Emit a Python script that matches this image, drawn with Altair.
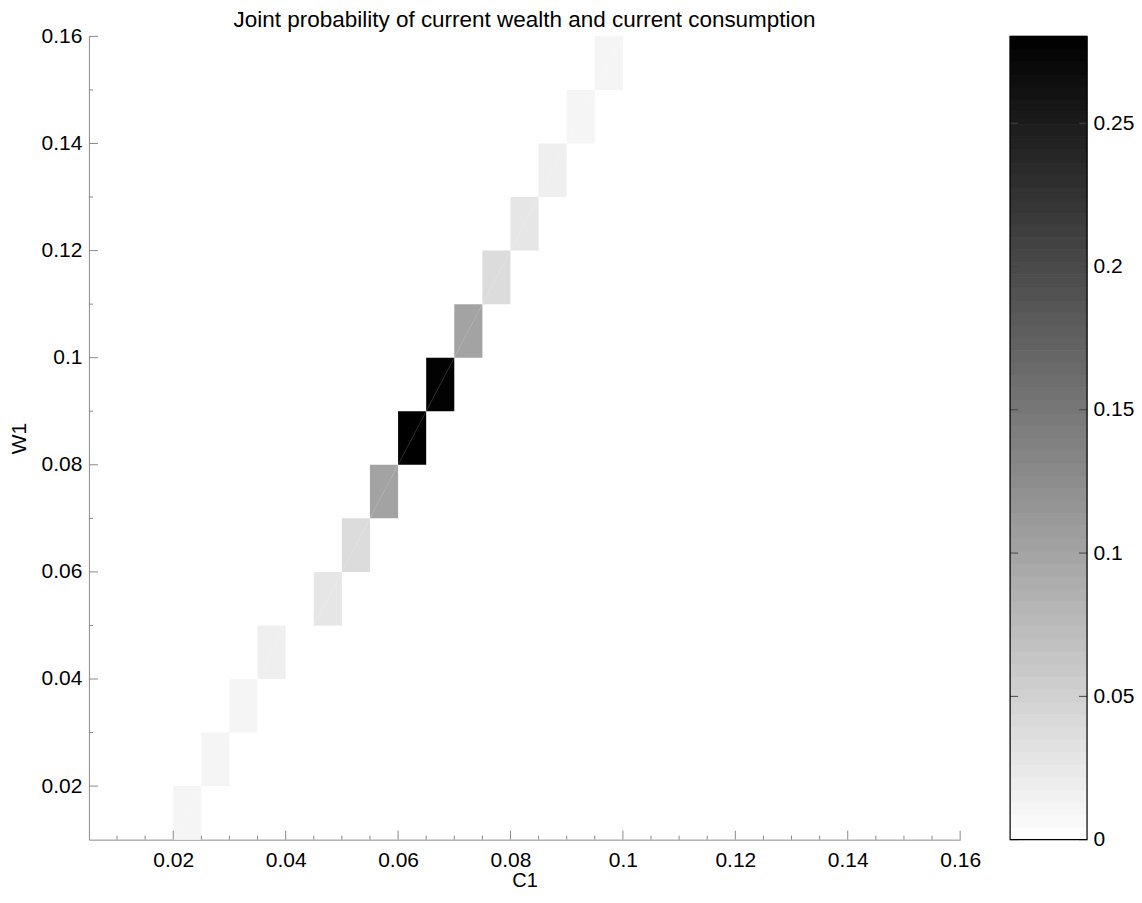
import altair as alt
import pandas as pd

# ---- data ----
c1_left = [0.020, 0.025, 0.030, 0.035, 0.045, 0.050, 0.055, 0.060,
           0.065, 0.070, 0.075, 0.080, 0.085, 0.090, 0.095]
c1_right = [0.025, 0.030, 0.035, 0.040, 0.050, 0.055, 0.060, 0.065,
            0.070, 0.075, 0.080, 0.085, 0.090, 0.095, 0.100]
w1_low = [0.01, 0.02, 0.03, 0.04, 0.05, 0.06, 0.07, 0.08,
          0.09, 0.10, 0.11, 0.12, 0.13, 0.14, 0.15]
w1_high = [0.02, 0.03, 0.04, 0.05, 0.06, 0.07, 0.08, 0.09,
           0.10, 0.11, 0.12, 0.13, 0.14, 0.15, 0.16]
prob = [0.011, 0.011, 0.011, 0.0176, 0.0275, 0.0385, 0.101, 0.280,
        0.278, 0.101, 0.0385, 0.0275, 0.0176, 0.011, 0.011]

x_major = [0.02, 0.04, 0.06, 0.08, 0.10, 0.12, 0.14, 0.16]
x_minor = [0.01, 0.015, 0.025, 0.03, 0.035, 0.045, 0.05, 0.055, 0.065, 0.07,
           0.075, 0.085, 0.09, 0.095, 0.105, 0.11, 0.115, 0.125, 0.13, 0.135,
           0.145, 0.15, 0.155]
y_major = [0.02, 0.04, 0.06, 0.08, 0.10, 0.12, 0.14, 0.16]
y_minor = [0.03, 0.05, 0.07, 0.09, 0.11, 0.13, 0.15]
cbar_ticks = [0, 0.05, 0.10, 0.15, 0.20, 0.25]
CMAX = 0.2803
N_LEVELS = 64

FONT = "Liberation Sans"
AXC = "#8a8a8a"
W, H = 872, 804
CBW = 77

cells = pd.DataFrame({"c_lo": c1_left, "c_hi": c1_right,
                      "w_lo": w1_low, "w_hi": w1_high, "p": prob})

xs = alt.Scale(domain=[0.005, 0.16], nice=False, zero=False)
ys = alt.Scale(domain=[0.01, 0.16], nice=False, zero=False)
cs = alt.Scale(domain=[0, CMAX], range=["#ffffff", "#000000"], interpolate="rgb")

x_axis = alt.Axis(values=x_major, format="~g", labelFlush=False, labelOverlap=False,
                  labelPadding=10, titlePadding=0, titleFontSize=20)
y_axis = alt.Axis(values=y_major, format="~g", labelFlush=False, labelOverlap=False,
                  labelPadding=7, titlePadding=12)

rects = alt.Chart(cells).mark_rect(strokeWidth=0).encode(
    x=alt.X("c_lo:Q", scale=xs, axis=x_axis, title="C1"),
    x2="c_hi:Q",
    y=alt.Y("w_lo:Q", scale=ys, axis=y_axis, title="W1"),
    y2="w_hi:Q",
    color=alt.Color("p:Q", scale=cs, legend=None),
)

seams = alt.Chart(cells).mark_rule(color="white", opacity=0.22, strokeWidth=0.8).encode(
    x=alt.X("c_lo:Q", scale=xs, title="C1"),
    x2="c_hi:Q",
    y=alt.Y("w_lo:Q", scale=ys, title="W1"),
    y2="w_hi:Q",
)

xmaj = alt.Chart(pd.DataFrame({"v": x_major})).mark_rule(color=AXC, strokeWidth=1).encode(
    x=alt.X("v:Q", scale=xs, title="C1"), y=alt.value(H), y2=alt.value(H - 9))
xmin = alt.Chart(pd.DataFrame({"v": x_minor})).mark_rule(color=AXC, strokeWidth=1).encode(
    x=alt.X("v:Q", scale=xs, title="C1"), y=alt.value(H), y2=alt.value(H - 4))
ymaj = alt.Chart(pd.DataFrame({"v": y_major})).mark_rule(color=AXC, strokeWidth=1).encode(
    y=alt.Y("v:Q", scale=ys, title="W1"), x=alt.value(0), x2=alt.value(9))
ymin = alt.Chart(pd.DataFrame({"v": y_minor})).mark_rule(color=AXC, strokeWidth=1).encode(
    y=alt.Y("v:Q", scale=ys, title="W1"), x=alt.value(0), x2=alt.value(4))

main = alt.layer(rects, seams, xmaj, xmin, ymaj, ymin).properties(
    width=W, height=H,
    title=alt.TitleParams(
        text="Joint probability of current wealth and current consumption",
        font=FONT, fontSize=22.5, fontWeight="normal", color="black",
        anchor="middle", offset=-6),
)

# ---- colorbar ----
lv_lo = [i * CMAX / N_LEVELS for i in range(N_LEVELS)]
lv_hi = [(i + 1) * CMAX / N_LEVELS for i in range(N_LEVELS)]
lv_mid = [(i + 0.5) * CMAX / N_LEVELS for i in range(N_LEVELS)]
cbdf = pd.DataFrame({"lo": lv_lo, "hi": lv_hi, "mid": lv_mid})
cby = alt.Scale(domain=[0, CMAX], nice=False, zero=True)

stripes = alt.Chart(cbdf).mark_rect(strokeWidth=0.8).encode(
    y=alt.Y("lo:Q", scale=cby, title=None,
            axis=alt.Axis(orient="right", values=cbar_ticks, format="~g", domain=False,
                          ticks=False, labelPadding=6, labelFlush=False,
                          labelOverlap=False)),
    y2="hi:Q",
    x=alt.value(0), x2=alt.value(CBW),
    color=alt.Color("mid:Q", scale=cs, legend=None),
    stroke=alt.Stroke("mid:Q", scale=cs, legend=None),
)
tdf = pd.DataFrame({"v": cbar_ticks})
cb_tl = alt.Chart(tdf).mark_rule(color="#444444", strokeWidth=1).encode(
    y=alt.Y("v:Q", scale=cby, title=None), x=alt.value(0), x2=alt.value(8))
cb_tr = alt.Chart(tdf).mark_rule(color="#444444", strokeWidth=1).encode(
    y=alt.Y("v:Q", scale=cby, title=None), x=alt.value(CBW - 8), x2=alt.value(CBW))
border = alt.Chart(pd.DataFrame({"a": [0]})).mark_rect(
    filled=False, stroke="black", strokeWidth=1.2).encode(
    x=alt.value(0), x2=alt.value(CBW), y=alt.value(0), y2=alt.value(H))

cbar = alt.layer(stripes, cb_tl, cb_tr, border).properties(width=CBW, height=H)

chart = alt.hconcat(main, cbar, spacing=50, bounds="flush").resolve_scale(
    x="independent", y="independent", color="independent", stroke="independent"
).properties(
    padding={"left": 0, "top": 0, "right": 0, "bottom": 0}
).configure_axis(
    labelFont=FONT, titleFont=FONT, labelFontSize=21, titleFontSize=21,
    titleFontWeight="normal", labelColor="black", titleColor="black",
    domainColor=AXC, domainWidth=1, ticks=False, grid=False,
).configure_view(stroke=None)

chart.save("out.html", embed_options={"renderer": "svg", "actions": False})
